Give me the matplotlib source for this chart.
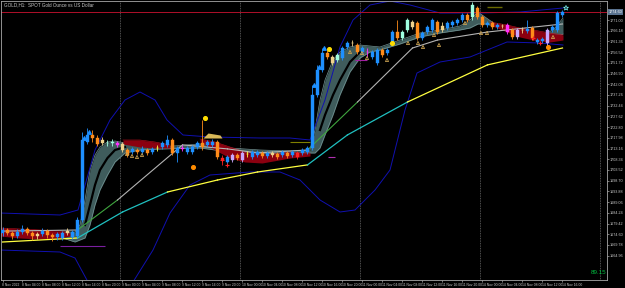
import matplotlib

matplotlib.use("Agg")
import matplotlib.pyplot as plt

plt.rcParams["font.family"] = ["Liberation Sans", "DejaVu Sans"]

# GOLD H1 candles, bar index 0 = 8 Nov 2022 00:00
opens = [
    1675.2, 1676.5, 1675.2, 1673.8, 1675.6, 1677.0, 1675.2, 1673.8, 1674.7, 1676.1,
    1674.3, 1673.4, 1672.9, 1675.2, 1673.4, 1673.8, 1681.0, 1716.1, 1719.3, 1717.9,
    1715.7, 1715.7, 1715.7, 1715.7, 1715.2, 1712.5, 1711.6, 1712.5, 1711.6, 1712.5,
    1711.6, 1713.4, 1713.9, 1714.8, 1717.0, 1711.2, 1713.4, 1711.6, 1711.6, 1713.9,
    1715.7, 1714.8, 1714.8, 1716.1, 1708.9, 1707.1, 1708.0, 1710.3, 1708.0, 1710.7,
    1709.4, 1710.3, 1711.2, 1709.8, 1711.2, 1710.7, 1710.3, 1711.2, 1710.3, 1711.2,
    1711.2, 1711.6, 1713.4, 1737.3, 1748.5, 1756.2, 1754.4, 1753.0, 1753.9, 1758.9,
    1760.7, 1759.8, 1756.6, 1756.6, 1754.4, 1751.7, 1757.5, 1756.2, 1760.7, 1765.6,
    1762.9, 1766.5, 1770.1, 1769.7, 1762.9, 1765.6, 1766.5, 1770.1, 1766.5, 1767.4,
    1768.8, 1769.7, 1771.0, 1773.3, 1772.4, 1776.4, 1772.4, 1768.8, 1769.7, 1767.9,
    1768.3, 1768.8, 1766.5, 1763.4, 1766.5, 1766.1, 1767.4, 1761.1, 1761.6, 1760.7,
    1766.5, 1766.5, 1773.3,
]
highs = [
    1677.9, 1677.4, 1676.1, 1677.0, 1678.8, 1677.9, 1676.1, 1675.6, 1677.4, 1677.0,
    1675.2, 1675.6, 1676.1, 1677.4, 1676.5, 1682.4, 1720.6, 1722.4, 1721.5, 1719.3,
    1718.4, 1717.0, 1717.5, 1716.6, 1716.1, 1713.4, 1713.9, 1713.4, 1714.3, 1713.4,
    1713.9, 1714.8, 1716.6, 1719.3, 1717.9, 1714.3, 1714.8, 1714.3, 1714.8, 1716.6,
    1726.0, 1717.0, 1717.5, 1717.0, 1710.3, 1710.3, 1711.2, 1711.2, 1712.1, 1712.1,
    1712.5, 1712.5, 1712.1, 1712.1, 1712.1, 1711.6, 1712.5, 1712.1, 1712.5, 1712.1,
    1713.4, 1714.3, 1741.8, 1750.8, 1758.4, 1757.5, 1755.3, 1756.2, 1759.3, 1761.6,
    1762.0, 1760.7, 1759.3, 1758.4, 1757.5, 1758.4, 1758.4, 1758.4, 1766.5, 1771.0,
    1766.5, 1771.9, 1771.0, 1770.6, 1766.1, 1768.8, 1771.9, 1771.0, 1770.1, 1770.6,
    1771.0, 1771.9, 1774.2, 1774.2, 1779.1, 1777.3, 1773.3, 1770.6, 1770.6, 1769.7,
    1769.2, 1769.7, 1767.4, 1767.4, 1767.9, 1771.0, 1768.3, 1762.9, 1763.4, 1767.4,
    1768.8, 1775.1, 1775.5,
]
lows = [
    1673.8, 1674.3, 1672.5, 1672.9, 1674.7, 1674.3, 1672.0, 1672.5, 1673.8, 1672.9,
    1671.6, 1672.0, 1672.0, 1674.3, 1672.5, 1672.9, 1680.1, 1715.2, 1716.1, 1714.3,
    1714.8, 1714.3, 1714.3, 1713.9, 1711.6, 1709.4, 1710.7, 1710.7, 1710.7, 1710.3,
    1710.7, 1712.1, 1713.0, 1713.9, 1710.3, 1707.1, 1712.1, 1710.7, 1710.7, 1713.0,
    1712.5, 1713.9, 1713.9, 1708.5, 1705.8, 1706.2, 1707.1, 1708.0, 1707.1, 1709.4,
    1708.5, 1709.4, 1708.9, 1708.9, 1709.4, 1708.5, 1709.4, 1708.9, 1709.4, 1708.5,
    1710.3, 1710.7, 1712.5, 1736.4, 1747.6, 1753.5, 1750.8, 1752.1, 1753.0, 1758.0,
    1759.3, 1755.7, 1755.7, 1754.4, 1753.5, 1750.8, 1754.4, 1755.3, 1759.8, 1762.0,
    1762.0, 1765.6, 1767.0, 1762.0, 1762.0, 1764.7, 1765.6, 1764.7, 1765.6, 1766.5,
    1767.9, 1768.8, 1770.1, 1770.1, 1771.0, 1771.5, 1767.9, 1767.9, 1767.0, 1767.0,
    1767.4, 1764.7, 1762.5, 1762.5, 1765.2, 1765.2, 1762.0, 1760.2, 1760.7, 1759.3,
    1765.6, 1765.6, 1772.4,
]
closes = [
    1676.5, 1675.2, 1673.8, 1675.6, 1677.0, 1675.2, 1673.8, 1674.7, 1676.1, 1674.3,
    1673.4, 1674.7, 1675.2, 1676.1, 1675.6, 1681.0, 1717.0, 1719.3, 1717.9, 1715.2,
    1717.0, 1715.6, 1716.1, 1714.8, 1712.5, 1710.3, 1713.0, 1711.6, 1713.0, 1711.2,
    1713.0, 1713.3, 1715.7, 1717.0, 1711.2, 1713.4, 1713.0, 1713.4, 1713.9, 1715.7,
    1713.9, 1716.1, 1716.1, 1709.4, 1708.0, 1709.4, 1710.3, 1708.9, 1711.2, 1710.6,
    1711.6, 1711.6, 1709.8, 1711.2, 1710.3, 1709.4, 1711.6, 1709.8, 1711.6, 1709.4,
    1712.5, 1713.4, 1737.3, 1748.5, 1756.2, 1754.4, 1751.7, 1755.3, 1758.4, 1760.7,
    1760.6, 1756.6, 1758.4, 1756.5, 1756.6, 1757.5, 1755.3, 1757.5, 1765.6, 1762.9,
    1765.6, 1771.0, 1767.9, 1762.9, 1765.2, 1767.9, 1771.0, 1765.6, 1768.3, 1769.7,
    1770.1, 1771.0, 1773.3, 1771.0, 1777.8, 1772.4, 1768.8, 1769.7, 1767.9, 1768.8,
    1768.2, 1765.6, 1763.4, 1766.5, 1766.4, 1767.0, 1762.9, 1762.0, 1762.5, 1766.5,
    1767.9, 1774.2, 1774.6,
]
# colour code of each candle as painted by the indicator
bar_codes = "".join([
    "boobbootbo", "obbtbbbboo", "tccmtobobo", "bybbobmbbb", "obborbloly",
    "bbobtobobr", "bbbbbotcbb", "tobmbbobbo", "cctobbbotb", "bbbocoobob",
    "tmoltbobbl", "bbb",
])

# slow moving average, colour per segment (y = yellow, c = cyan)
slow_bars = [0, 15, 24, 33, 43, 51, 61, 69, 81, 97, 112]
slow_vals = [1671.1, 1672.9, 1684.6, 1693.6, 1699.0, 1702.6, 1705.8, 1719.3, 1734.1, 1750.8, 1758.4]
slow_cols = "yccyyyccyy"

# medium moving average (w = grey, g = green)
mid_bars = [0, 15, 23, 36, 45, 51, 61, 71, 82, 87, 97, 112]
mid_vals = [1676.0, 1676.5, 1690.0, 1714.8, 1713.0, 1711.2, 1712.5, 1734.1, 1758.4, 1762.0, 1765.6, 1769.2]
mid_cols = "wgwwwwgwwww"

# slate ribbon between the fast averages
rib_bars = [12, 14.5, 15.5, 16.5, 17.5, 18.5, 19.5, 21, 22.5, 24.5,
            27.5, 31.5, 39.5, 45.5, 51.5, 57.5, 61.5, 62.5, 63.5, 64.5,
            66.1, 67.5, 69.5, 71.5, 73.5, 75.5, 79.5, 83.5, 87.5, 91.5,
            93.5, 95.1, 96.5, 98.5, 103.5, 108.5, 110.5, 112.1]
rib_top = [1675.6, 1675.6, 1678.75, 1690.0, 1703.5, 1710.25, 1713.85, 1716.1, 1716.55, 1715.65,
           1714.3, 1713.85, 1715.2, 1713.4, 1712.5, 1712.05, 1712.5, 1721.5, 1735.0, 1744.0,
           1753.0, 1756.6, 1758.85, 1759.75, 1759.3, 1758.85, 1762.0, 1765.15, 1766.5, 1768.3,
           1771.0, 1774.6, 1772.35, 1769.2, 1766.95, 1764.25, 1767.4, 1771.9]
rib_bot = [1672.9, 1671.1, 1672.0, 1672.9, 1678.75, 1687.75, 1694.5, 1701.25, 1707.1, 1711.15,
           1712.5, 1712.95, 1713.4, 1711.6, 1711.15, 1710.7, 1711.15, 1711.15, 1713.4, 1719.25,
           1728.25, 1737.25, 1747.6, 1753.9, 1756.6, 1757.5, 1760.2, 1763.35, 1765.15, 1766.5,
           1767.4, 1769.2, 1769.2, 1768.3, 1766.05, 1762.9, 1762.9, 1764.7]
gap1_bars = [16.5, 17.5, 18.5, 19.5, 21, 22.5, 24.5]
gap1_vals = [1678.75, 1687.75, 1696.75, 1703.5, 1708.9, 1712.5, 1713.85]
gap2_bars = [63.5, 64.5, 66.1, 67.5, 69.5, 71.5]
gap2_vals = [1721.5, 1728.25, 1737.25, 1744.0, 1752.1, 1756.6]

# dark red ribbons
red_ribbons = [
    ([-0.5, 3.5, 7.5, 11.5, 13.5],
     [1677.4, 1676.95, 1676.5, 1676.05, 1675.15],
     [1673.8, 1672.9, 1672.45, 1672.9, 1673.8]),
    ([24.1, 27.5, 30.5, 33.5],
     [1717.0, 1717.0, 1716.1, 1714.75],
     [1715.2, 1713.85, 1713.4, 1713.4]),
    ([39.5, 42.5, 45.5, 48.5, 51.9, 57.5, 61.5],
     [1717.45, 1716.1, 1713.85, 1711.6, 1710.25, 1711.6, 1711.15],
     [1716.1, 1712.5, 1708.9, 1707.1, 1706.65, 1708.9, 1709.8]),
    ([97.5, 100.9, 103.5, 106.1, 109.5, 112.1],
     [1770.1, 1768.75, 1767.4, 1766.5, 1765.15, 1764.25],
     [1768.75, 1765.6, 1763.35, 1762.0, 1761.1, 1762.0]),
]

# dark blue envelope
up_bars = [-0.5, 11.5, 15.1, 18.5, 21.5, 24.5, 27.5, 30.5, 32.9, 36.1,
           41.5, 51.5, 57.5, 61.5, 64.5, 67.5, 70.1, 73.5, 77.5, 81.5,
           87.5, 95.5, 103.5, 112.1]
up_vals = [1684.15, 1683.25, 1685.5, 1712.5, 1726.0, 1735.0, 1738.6, 1735.0, 1726.0, 1719.25,
           1718.35, 1717.9, 1717.9, 1717.0, 1735.0, 1758.85, 1771.0, 1777.75, 1779.55, 1777.75,
           1774.15, 1774.15, 1774.6, 1776.4]
lo_bars = [-0.5, 11.5, 14.5, 17.1, 26.1, 30.1, 33.5, 37.5, 41.5, 49.5,
           55.5, 59.5, 63.5, 67.5, 70.5, 74.5, 77.5, 80.5, 82.9, 87.5,
           93.5, 100.9, 107.5, 112.1]
lo_vals = [1667.5, 1666.6, 1663.9, 1653.1, 1653.1, 1667.5, 1684.15, 1696.75, 1701.25, 1702.6,
           1702.6, 1699.0, 1690.0, 1684.6, 1685.5, 1694.5, 1703.5, 1730.5, 1747.15, 1752.1,
           1754.35, 1761.1, 1760.65, 1759.75]

# signal markers
arrow_bars = [24.9, 25.9, 26.9, 27.9, 69.5, 71.9, 72.9, 76.9, 81.1, 83.1, 84.1, 86.3,
              87.3, 92.5, 95.7, 96.9, 110.1]
arrow_vals = [1710.7, 1709.8, 1709.35, 1710.25, 1756.6, 1756.15, 1753.9, 1753.0, 1760.65,
              1760.65, 1758.85, 1764.25, 1759.75, 1769.65, 1765.15, 1765.15, 1763.35]
up_arrow_bars = [16.3, 17.3, 62.3, 63.3, 64.3]
up_arrow_vals = [1717.9, 1720.6, 1741.75, 1749.85, 1758.4]
yellow_dot_bars = [40.5, 65.3, 77.9]
yellow_dot_vals = [1726.9, 1757.95, 1760.65]
orange_dot_bars = [38.1, 109.1]
orange_dot_vals = [1704.85, 1758.85]
cross_bars = [43.9, 44.9, 106.1, 107.5]
cross_vals = [1708.0, 1705.75, 1762.9, 1760.65]

day_starts = [24, 48, 72, 96, 120]
price_ticks = [1771.00, 1766.18, 1761.36, 1756.54, 1751.72, 1746.90, 1742.08,
               1737.26, 1732.44, 1727.62, 1722.80, 1717.98, 1713.16, 1708.34, 1703.52,
               1698.70, 1693.88, 1689.06, 1684.24, 1679.42, 1674.60, 1669.78, 1664.96]
time_ticks = list(range(0, 113, 4))
time_labels = [
    "8 Nov 2022", "8 Nov 04:00", "8 Nov 08:00", "8 Nov 12:00", "8 Nov 16:00", "8 Nov 20:00",
    "9 Nov 00:00", "9 Nov 04:00", "9 Nov 08:00", "9 Nov 12:00", "9 Nov 16:00", "9 Nov 20:00",
    "10 Nov 00:00", "10 Nov 04:00", "10 Nov 08:00", "10 Nov 12:00", "10 Nov 16:00",
    "10 Nov 20:00", "11 Nov 00:00", "11 Nov 04:00", "11 Nov 08:00", "11 Nov 12:00",
    "11 Nov 16:00", "11 Nov 20:00", "14 Nov 00:00", "14 Nov 04:00", "14 Nov 08:00",
    "14 Nov 12:00", "14 Nov 16:00",
]

palette = {
    "b": "#1e90ff", "o": "#ff8c1a", "t": "#f0d28c", "c": "#a0ffe0",
    "m": "#ff30ff", "l": "#c8a8ff", "y": "#ffff40", "r": "#ff2020",
    "w": "#b4b4b4", "g": "#3fa53f",
}
fg = "#a8a8a8"

fig = plt.figure(figsize=(6.25, 2.88), dpi=100, facecolor="black")
ax = fig.add_axes([1 / 625, 8 / 288, 606 / 625, 279 / 288], facecolor="black")

# ribbons and envelope
ax.fill_between(rib_bars, rib_bot, rib_top, color="#3f5c5c", lw=0, zorder=1)
ax.plot(rib_bars, rib_top, color="#739393", lw=0.5, zorder=1)
ax.plot(rib_bars, rib_bot, color="#739393", lw=0.5, zorder=1)
ax.plot(gap1_bars, gap1_vals, color="black", lw=1.6, zorder=1)
ax.plot(gap2_bars, gap2_vals, color="black", lw=1.6, zorder=1)
for rx, rt, rb in red_ribbons:
    ax.fill_between(rx, rb, rt, color="#8b0010", lw=0, zorder=1.2)
    ax.plot(rx, rt, color="#c01020", lw=0.4, zorder=1.2)

ax.plot(up_bars, up_vals, color="#1010b0", lw=0.7, zorder=1.5)
ax.plot(lo_bars, lo_vals, color="#1010b0", lw=0.7, zorder=1.5)

for i in range(len(slow_bars) - 1):
    ax.plot(slow_bars[i:i + 2], slow_vals[i:i + 2],
            color=palette["y"] if slow_cols[i] == "y" else "#20c0c0", lw=0.9, zorder=2)
for i in range(len(mid_bars) - 1):
    ax.plot(mid_bars[i:i + 2], mid_vals[i:i + 2], color=palette[mid_cols[i]], lw=0.8, zorder=2)

# short level lines
ax.hlines(1669.3, 11.5, 20.5, color="#7a1fa0", lw=0.8, zorder=2)
ax.hlines(1716.1, 57.5, 61.5, color="#808000", lw=0.8, zorder=2)
ax.hlines(1709.35, 65.1, 66.5, color="#b030b0", lw=0.8, zorder=2)
ax.hlines(1753.0, 70.5, 72.9, color="#a020a0", lw=0.8, zorder=2)
ax.hlines(1776.85, 96.9, 99.9, color="#6b6b00", lw=1.0, zorder=2)
ax.fill_between([40.1, 41.1, 43.5, 43.9], [1717.9] * 4, [1717.9, 1720.15, 1719.25, 1717.9],
                color="#d8b858", lw=0, zorder=2)

# candles
x = list(range(len(closes)))
cols = [palette[c] for c in bar_codes]
ax.vlines(x, lows, highs, colors=cols, lw=0.6, zorder=3)
ax.bar(x, [c - o for o, c in zip(opens, closes)], bottom=opens, width=0.62,
       color=cols, edgecolor=cols, linewidth=0.3, zorder=3.1)

# markers
ax.scatter(arrow_bars, arrow_vals, marker="^", s=5, facecolor="none",
           edgecolor="#c8a050", linewidth=0.6, zorder=4)
ax.scatter(up_arrow_bars, up_arrow_vals, marker="^", s=6, color="#1e90ff", zorder=4)
ax.scatter(yellow_dot_bars, yellow_dot_vals, marker="o", s=7, color="#ffdd00", zorder=4)
ax.scatter(orange_dot_bars, orange_dot_vals, marker="o", s=7, color="#ff8c00", zorder=4)
ax.scatter(cross_bars, cross_vals, marker="+", s=10, color="#ff2020", linewidth=0.8, zorder=4)
ax.scatter([112.7], [1776.4], marker="*", s=14, facecolor="none", edgecolor="#80ffff",
           linewidth=0.5, zorder=4)

# period separators and price line
for d in day_starts:
    ax.axvline(d - 0.5, color="#6a6a6a", ls=(0, (1, 1)), lw=0.6, zorder=0.5)
last = closes[-1]
ax.axhline(last, color="#b0102a", lw=0.7, zorder=2.5)

ax.set_xlim(-0.3, 120.9)
ax.set_ylim(1654.0, 1779.55)

ax.yaxis.tick_right()
ax.set_yticks(price_ticks)
ax.set_yticklabels([f"{v:.2f}" for v in price_ticks], fontsize=2.7)
ax.set_xticks(time_ticks)
ax.set_xticklabels(time_labels, fontsize=2.4)
for lab in ax.get_xticklabels():
    lab.set_ha("left")
ax.tick_params(colors=fg, labelcolor="#c8c8c8", length=1.5, width=0.5, pad=0.6)
for sp in ax.spines.values():
    sp.set_color(fg)
    sp.set_linewidth(0.6)

ax.text(1.003, last, f"{last:.2f}", transform=ax.get_yaxis_transform(), fontsize=2.7,
        color="white", va="center", ha="left", clip_on=False,
        bbox=dict(boxstyle="square,pad=0.2", fc="#5a7390", ec="none"))

fig.text(4 / 625, 1 - 5 / 288, "GOLD,H1:  SPOT Gold Ounce vs US Dollar", fontsize=3.3,
         color="#c8c8c8", va="center", ha="left")
fig.text(606 / 625, 1 - 272 / 288, "89.15", fontsize=4.5, color="#00c040",
         va="center", ha="right")

fig.savefig("out.png", dpi=100, facecolor="black")
